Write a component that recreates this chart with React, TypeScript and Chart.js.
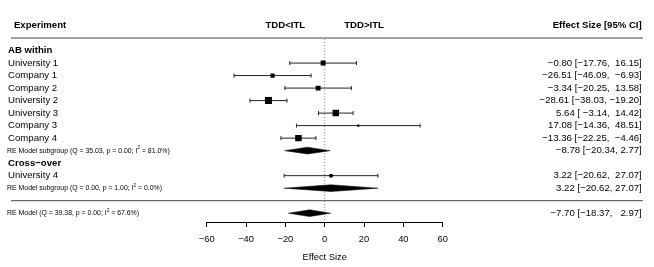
import React, { useEffect, useRef } from "react";
import { Chart, registerables } from "chart.js";
Chart.register(...registerables);

// ---------- data ----------
const studyLabels = ["University 1", "Company 1", "Company 2", "University 2", "University 3", "Company 3", "Company 4", "University 4"];
const studyEstimates = [-0.8, -26.51, -3.34, -28.61, 5.64, 17.08, -13.36, 3.22];
const studyLower = [-17.76, -46.09, -20.25, -38.03, -3.14, -14.36, -22.25, -20.62];
const studyUpper = [16.15, -6.93, 13.58, -19.2, 14.42, 48.51, -4.46, 27.07];
const studyWeights = [12.4, 10.6, 12.4, 17.7, 16.4, 5.3, 16.4, 8.7];
const studyRows = [13, 12, 11, 10, 9, 8, 7, 4];

const groupHeaders = ["AB within", "Cross-over"];
const groupRows = [14, 5];

const pooledLabels = ["RE Model subgroup", "RE Model subgroup", "RE Model"];
const pooledEstimates = [-8.78, 3.22, -7.7];
const pooledLower = [-20.34, -20.62, -18.37];
const pooledUpper = [2.77, 27.07, 2.97];
const pooledQ = [35.03, 0.0, 39.38];
const pooledP = [0.0, 1.0, 0.0];
const pooledI2 = [81.0, 0.0, 67.6];
const pooledRows = [6, 3, 1];
const pooledIsMain = [false, false, true];

const headerLeft = "Experiment";
const headerRight = "Effect Size [95% CI]";
const directionLabels = ["TDD<ITL", "TDD>ITL"];
const directionX = [-20, 20];
const xTickValues = [-60, -40, -20, 0, 20, 40, 60];
const xAxisTitle = "Effect Size";

// ---------- layout / style ----------
const FAMILY = '"Liberation Sans", Arial, Helvetica, sans-serif';
const font = (size: number, bold = false) => `${bold ? "bold " : ""}${size}px ${FAMILY}`;
const MAIN_SIZE = 9.6;
const SMALL_SIZE = 6.9;
const AXIS_SIZE = 9.3;
const HEADER_ROW = 16;
const TOP_LINE_ROW = 15;
const MID_LINE_ROW = 2;
const XLIM_LEFT = -159.5;
const XLIM_RIGHT = 161.8;
const LABEL_X = -161;
const HEADER_LEFT_X = -158;
const POOLED_TEXT_X = -161.5;
const VALUES_X = 161.2;
const HEADER_RIGHT_X = 161.2;
const DIAMOND_HALF = 0.27;
const MAX_SQUARE = 7;

const minus = (s: string) => s.replace(/-/g, "\u2212");
const f2 = (v: number) => v.toFixed(2);

function annot(est: number, lo: number, hi: number, pad: boolean) {
  let e = f2(est), l = f2(lo), h = f2(hi);
  if (pad) {
    const allEst = [...studyEstimates, pooledEstimates[2]].map(f2);
    const allLo = [...studyLower, pooledLower[2]].map(f2);
    const allHi = [...studyUpper, pooledUpper[2]].map(f2);
    const we = Math.max(...allEst.map((s) => s.length));
    const wl = Math.max(...allLo.map((s) => s.length));
    const wh = Math.max(...allHi.map((s) => s.length));
    e = e.padStart(we, " ");
    l = l.padStart(wl, " ");
    h = h.padStart(wh, " ");
  }
  return minus(`${e} [${l}, ${h}]`);
}

const forestPlugin = {
  id: "forestDecor",
  beforeDatasetsDraw(chart: any) {
    const { ctx, scales, chartArea } = chart;
    const x = scales.x, y = scales.y;
    ctx.save();
    // reference line at 0
    ctx.strokeStyle = "#888";
    ctx.lineWidth = 1;
    ctx.setLineDash([1, 2]);
    ctx.beginPath();
    const x0 = x.getPixelForValue(0);
    ctx.moveTo(x0, y.getPixelForValue(TOP_LINE_ROW) + 1);
    ctx.lineTo(x0, chartArea.bottom);
    ctx.stroke();
    ctx.setLineDash([]);
    // horizontal separators
    ctx.strokeStyle = "#444";
    ctx.lineWidth = 1;
    [TOP_LINE_ROW, MID_LINE_ROW].forEach((r) => {
      const py = y.getPixelForValue(r);
      ctx.beginPath();
      ctx.moveTo(x.getPixelForValue(XLIM_LEFT), py);
      ctx.lineTo(x.getPixelForValue(XLIM_RIGHT), py);
      ctx.stroke();
    });
    ctx.restore();
  },
  afterDraw(chart: any) {
    const { ctx, scales } = chart;
    const x = scales.x, y = scales.y;
    ctx.save();
    ctx.fillStyle = "#000";
    ctx.textBaseline = "middle";
    // headers
    const hy = y.getPixelForValue(HEADER_ROW);
    ctx.font = font(MAIN_SIZE, true);
    ctx.textAlign = "left";
    ctx.fillText(headerLeft, x.getPixelForValue(HEADER_LEFT_X), hy);
    ctx.textAlign = "right";
    ctx.fillText(headerRight, x.getPixelForValue(HEADER_RIGHT_X), hy);
    ctx.textAlign = "center";
    directionLabels.forEach((t, i) => ctx.fillText(t, x.getPixelForValue(directionX[i]), hy));
    // group headers
    ctx.textAlign = "left";
    groupHeaders.forEach((t, i) => ctx.fillText(minus(t), x.getPixelForValue(LABEL_X), y.getPixelForValue(groupRows[i])));
    // study labels and annotations
    ctx.font = font(MAIN_SIZE);
    studyLabels.forEach((t, i) => {
      const py = y.getPixelForValue(studyRows[i]);
      ctx.textAlign = "left";
      ctx.fillText(t, x.getPixelForValue(LABEL_X), py);
      ctx.textAlign = "right";
      ctx.fillText(annot(studyEstimates[i], studyLower[i], studyUpper[i], true), x.getPixelForValue(VALUES_X), py);
    });
    // pooled rows
    pooledLabels.forEach((t, i) => {
      const py = y.getPixelForValue(pooledRows[i]);
      ctx.font = font(MAIN_SIZE);
      ctx.textAlign = "right";
      ctx.fillText(annot(pooledEstimates[i], pooledLower[i], pooledUpper[i], pooledIsMain[i]), x.getPixelForValue(VALUES_X), py);
      ctx.textAlign = "left";
      ctx.font = font(SMALL_SIZE);
      let px = x.getPixelForValue(POOLED_TEXT_X);
      const s1 = `${t} (Q = ${f2(pooledQ[i])}, p = ${f2(pooledP[i])}; I`;
      ctx.fillText(s1, px, py);
      px += ctx.measureText(s1).width;
      ctx.font = font(SMALL_SIZE * 0.7);
      ctx.fillText("2", px, py - 2.6);
      px += ctx.measureText("2").width;
      ctx.font = font(SMALL_SIZE);
      ctx.fillText(` = ${pooledI2[i].toFixed(1)}%)`, px, py);
    });
    ctx.restore();
  },
};

export default function App() {
  const ref = useRef<HTMLCanvasElement>(null);
  useEffect(() => {
    const canvas = ref.current;
    if (!canvas) return;
    const ciSets = studyLabels.map((_, i) => ({
      type: "line" as const,
      data: [
        { x: studyLower[i], y: studyRows[i] },
        { x: studyUpper[i], y: studyRows[i] },
      ],
      borderColor: "#222",
      borderWidth: 1,
      pointStyle: "line" as const,
      pointRotation: 90,
      pointRadius: 2,
      pointBorderColor: "#222",
      pointBorderWidth: 1,
      fill: false,
      order: 3,
    }));
    const maxW = Math.max(...studyWeights);
    const squareSet = {
      type: "scatter" as const,
      data: studyLabels.map((_, i) => ({ x: studyEstimates[i], y: studyRows[i] })),
      pointStyle: "rect" as const,
      pointRadius: studyWeights.map((w) => ((w / maxW) * MAX_SQUARE) / Math.SQRT2),
      backgroundColor: "#000",
      borderWidth: 0,
      order: 1,
    };
    const diamondSets = pooledLabels.map((_, i) => ({
      type: "line" as const,
      data: [
        { x: pooledLower[i], y: pooledRows[i] },
        { x: pooledEstimates[i], y: pooledRows[i] + DIAMOND_HALF },
        { x: pooledUpper[i], y: pooledRows[i] },
        { x: pooledEstimates[i], y: pooledRows[i] - DIAMOND_HALF },
        { x: pooledLower[i], y: pooledRows[i] },
      ],
      fill: "shape",
      backgroundColor: "#000",
      borderColor: "#000",
      borderWidth: 0.5,
      pointRadius: 0,
      tension: 0,
      order: 2,
    }));
    const chart = new Chart(canvas, {
      type: "scatter",
      data: { datasets: [...ciSets, ...diamondSets, squareSet] as any },
      options: {
        animation: false,
        responsive: false,
        events: [],
        layout: { padding: { left: 206.7, right: 211.3, top: 0, bottom: 0 } },
        scales: {
          x: {
            type: "linear",
            min: -60,
            max: 60,
            afterBuildTicks: (axis: any) => {
              axis.ticks = xTickValues.map((v) => ({ value: v }));
            },
            afterFit: (scale: any) => {
              scale.height = 45;
            },
            ticks: {
              color: "#000",
              font: { family: FAMILY, size: AXIS_SIZE },
              padding: 6.5,
              maxRotation: 0,
              callback: (v: any) => minus(String(v)),
            },
            grid: { drawOnChartArea: false, drawTicks: true, tickLength: 5, color: "#000", lineWidth: 1 },
            border: { display: true, color: "#000", width: 1 },
            title: {
              display: true,
              text: xAxisTitle,
              color: "#000",
              font: { family: FAMILY, size: AXIS_SIZE },
              padding: { top: 2, bottom: 4 },
            },
          },
          y: { type: "linear", display: false, min: 0.297, max: 17.64 },
        },
        plugins: { legend: { display: false }, tooltip: { enabled: false } },
      },
      plugins: [forestPlugin],
    } as any);
    return () => chart.destroy();
  }, []);
  return (
    <div style={{ position: "fixed", left: 0, top: 0, width: 654, height: 267, background: "#fff" }}>
      <canvas ref={ref} width={654} height={267} style={{ display: "block", width: 654, height: 267 }} />
    </div>
  );
}
